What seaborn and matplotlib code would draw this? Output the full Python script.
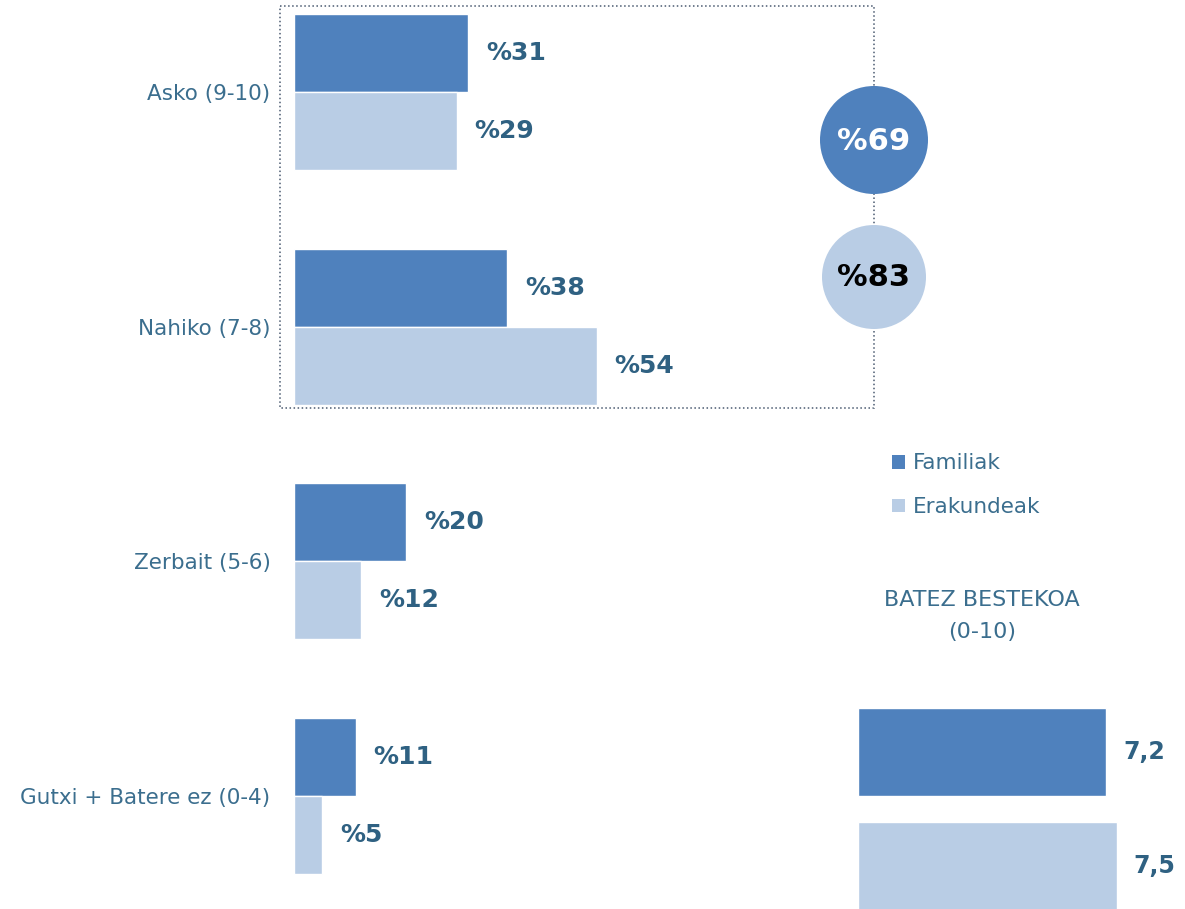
import numpy as np
import pandas as pd
import seaborn as sns
import matplotlib.pyplot as plt
from matplotlib.patches import Rectangle, Circle, Patch

# data
categories = ["Asko (9-10)", "Nahiko (7-8)", "Zerbait (5-6)", "Gutxi + Batere ez (0-4)"]
familiak = [31, 38, 20, 11]
erakundeak = [29, 54, 12, 5]
groups = ["Familiak", "Erakundeak"]
average = [7.2, 7.5]

colors = ["#4F81BD", "#B9CDE5"]
label_col = "#2F6182"
tick_col = "#3B6E8E"

df = pd.DataFrame({"maila": categories * 2,
                   "taldea": [groups[0]] * 4 + [groups[1]] * 4,
                   "ehunekoa": familiak + erakundeak})
avg_df = pd.DataFrame({"taldea": groups, "batez": average})

sns.set_style("white")
plt.rcParams["font.family"] = ["DejaVu Sans"]

W, H = 1185, 909
fig = plt.figure(figsize=(W / 100, H / 100), dpi=100)

# main bars
ax = fig.add_axes([294 / W, 0, 566 / W, 1])
sns.barplot(data=df, y="maila", x="ehunekoa", hue="taldea", palette=colors,
            width=0.665, orient="h", ax=ax, legend=False, saturation=1)
for c in ax.containers:
    ax.bar_label(c, labels=["%" + f"{v:.0f}" for v in c.datavalues], padding=13,
                 fontsize=18, fontweight="bold", color=label_col)
ax.set_xlim(0, 101)
ax.set_ylim(3.482, -0.392)
ax.set_xlabel("")
ax.set_ylabel("")
ax.set_xticks([])
ax.tick_params(axis="y", length=0, pad=17, labelsize=15.5, labelcolor=tick_col)
sns.despine(ax=ax, left=True, bottom=True)

# average bars
ax2 = fig.add_axes([858 / W, 0, (W - 858) / W, 219 / H])
sns.barplot(data=avg_df, y="taldea", x="batez", hue="taldea", palette=colors,
            width=0.775, orient="h", ax=ax2, legend=False, saturation=1)
for c in ax2.containers:
    ax2.bar_label(c, labels=[f"{v:.1f}".replace(".", ",") for v in c.datavalues],
                  padding=12, fontsize=17, fontweight="bold", color=label_col)
ax2.set_xlim(0, 327 / 34.5)
ax2.set_ylim(1.383, -0.546)
ax2.axis("off")

# overlay in pixel coordinates for the decorations
ov = fig.add_axes([0, 0, 1, 1])
ov.set_xlim(0, W)
ov.set_ylim(H, 0)
ov.axis("off")
ov.patch.set_alpha(0)

ov.add_patch(Rectangle((280, 6), 594, 402, fill=False, ls=":", lw=1.1, ec="#4A5A70"))
ov.add_patch(Circle((874, 140), 54, fc=colors[0], ec="none"))
ov.add_patch(Circle((874, 277), 52, fc=colors[1], ec="none"))
ov.text(874, 141, "%" + str(sum(familiak[:2])), ha="center", va="center",
        fontsize=22, fontweight="bold", color="white")
ov.text(874, 278, "%" + str(sum(erakundeak[:2])), ha="center", va="center",
        fontsize=22, fontweight="bold", color="black")

handles = [Patch(fc=c, ec="none") for c in colors]
ov.legend(handles=handles, labels=groups, loc="upper left",
          bbox_to_anchor=(873, 434), bbox_transform=ov.transData,
          frameon=False, fontsize=15.5, labelspacing=1.1,
          handlelength=0.6, handleheight=0.6, handletextpad=0.35,
          labelcolor=tick_col)

ov.text(982, 616, "BATEZ BESTEKOA\n(0-10)", ha="center", va="center",
        fontsize=16, linespacing=1.8, color=tick_col)

fig.savefig("out.png", dpi=100)
